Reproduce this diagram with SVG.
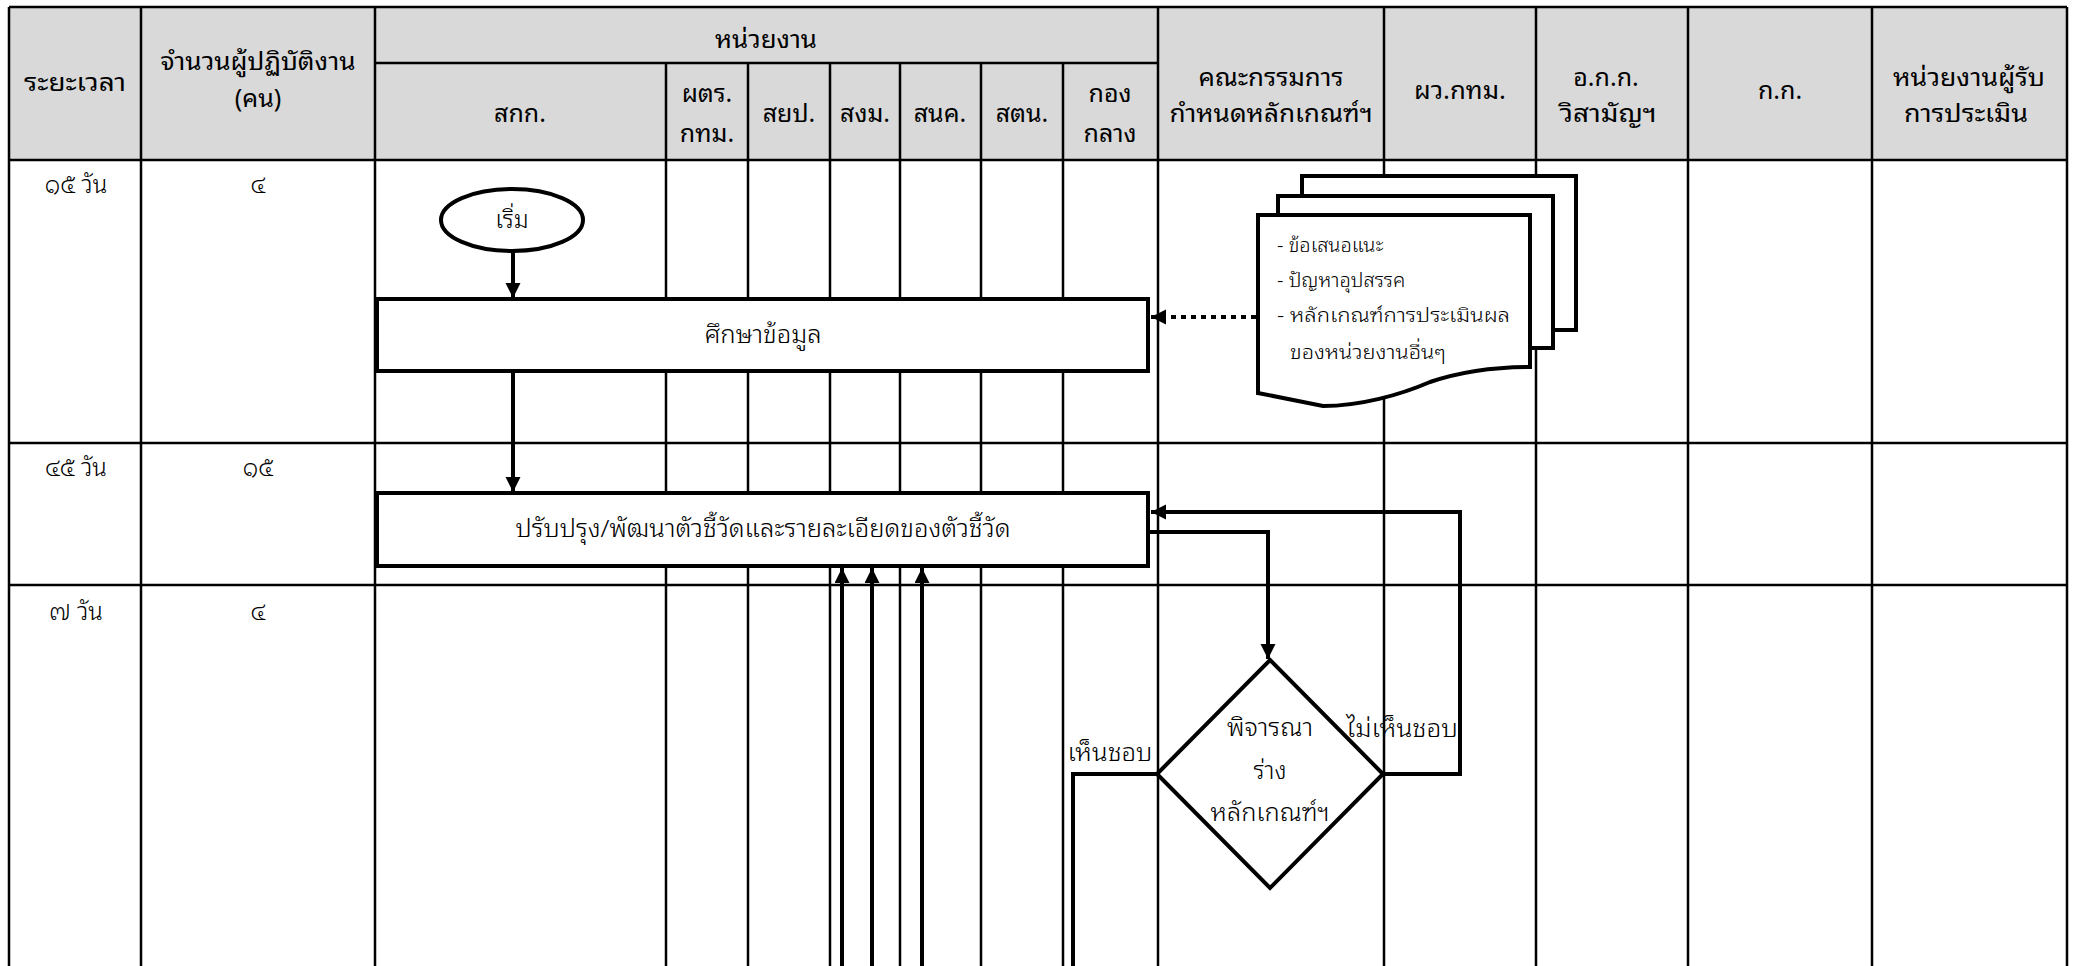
<svg xmlns="http://www.w3.org/2000/svg" width="2073" height="966" viewBox="0 0 2073 966">
  <style>
    text { font-family: "Noto Sans Thai Looped", "Noto Sans Thai", "Noto Sans Thai UI", Tahoma, "Noto Sans", "DejaVu Sans", sans-serif; fill: #000; }
    .hd { font-size: 25px; text-anchor: middle; font-weight: 400; }
    .cell { font-size: 24px; text-anchor: middle; font-weight: 300; }
    .lbl { font-size: 24px; text-anchor: middle; font-weight: 300; }
    .doc { font-size: 20px; font-weight: 300; }
    .grid line { stroke: #000; stroke-width: 2.5; }
    .shape { fill: #fff; stroke: #000; stroke-width: 4; }
    .conn { fill: none; stroke: #000; stroke-width: 4; }
    .dot { stroke-dasharray: 5 5; }
  </style>
  <defs>
    <marker id="arrow" markerUnits="userSpaceOnUse" markerWidth="16" markerHeight="16" refX="15" refY="7.5" orient="auto">
      <path d="M0,0 L15,7.5 L0,15 z" fill="#000"/>
    </marker>
  </defs>

  <rect x="0" y="0" width="2073" height="966" fill="#fff"/>

  <!-- header band -->
  <rect x="9" y="7" width="2058" height="153" fill="#d9d9d9"/>

  <!-- table grid -->
  <g class="grid">
    <line x1="9" y1="7" x2="2067" y2="7"/>
    <line x1="375" y1="63" x2="1158" y2="63"/>
    <line x1="9" y1="160" x2="2067" y2="160"/>
    <line x1="9" y1="443" x2="2067" y2="443"/>
    <line x1="9" y1="585" x2="2067" y2="585"/>
    <line x1="9" y1="7" x2="9" y2="966"/>
    <line x1="141" y1="7" x2="141" y2="966"/>
    <line x1="375" y1="7" x2="375" y2="966"/>
    <line x1="666" y1="63" x2="666" y2="966"/>
    <line x1="748" y1="63" x2="748" y2="966"/>
    <line x1="830" y1="63" x2="830" y2="966"/>
    <line x1="900" y1="63" x2="900" y2="966"/>
    <line x1="981" y1="63" x2="981" y2="966"/>
    <line x1="1063" y1="63" x2="1063" y2="966"/>
    <line x1="1158" y1="7" x2="1158" y2="966"/>
    <line x1="1384" y1="7" x2="1384" y2="966"/>
    <line x1="1536" y1="7" x2="1536" y2="966"/>
    <line x1="1688" y1="7" x2="1688" y2="966"/>
    <line x1="1872" y1="7" x2="1872" y2="966"/>
    <line x1="2067" y1="7" x2="2067" y2="966"/>
  </g>

  <!-- column headings -->
  <g id="headings">
    <text class="hd" x="75" y="91" textLength="102" lengthAdjust="spacingAndGlyphs">ระยะเวลา</text>
    <text class="hd" x="258" y="70" textLength="195" lengthAdjust="spacingAndGlyphs">จำนวนผู้ปฏิบัติงาน</text>
    <text class="hd" x="258" y="107">(คน)</text>
    <text class="hd" x="766" y="48" textLength="102" lengthAdjust="spacingAndGlyphs">หน่วยงาน</text>
    <text class="hd" x="520" y="122">สกก.</text>
    <text class="hd" x="707" y="102">ผตร.</text>
    <text class="hd" x="707" y="142">กทม.</text>
    <text class="hd" x="789" y="122">สยป.</text>
    <text class="hd" x="865" y="122">สงม.</text>
    <text class="hd" x="940" y="122">สนค.</text>
    <text class="hd" x="1022" y="122">สตน.</text>
    <text class="hd" x="1110" y="102">กอง</text>
    <text class="hd" x="1110" y="142">กลาง</text>
    <text class="hd" x="1271" y="86" textLength="145" lengthAdjust="spacingAndGlyphs">คณะกรรมการ</text>
    <text class="hd" x="1271" y="122" textLength="203" lengthAdjust="spacingAndGlyphs">กำหนดหลักเกณฑ์ฯ</text>
    <text class="hd" x="1460" y="99" textLength="92" lengthAdjust="spacingAndGlyphs">ผว.กทม.</text>
    <text class="hd" x="1606" y="86">อ.ก.ก.</text>
    <text class="hd" x="1608" y="122" textLength="97" lengthAdjust="spacingAndGlyphs">วิสามัญฯ</text>
    <text class="hd" x="1780" y="99">ก.ก.</text>
    <text class="hd" x="1969" y="86" textLength="152" lengthAdjust="spacingAndGlyphs">หน่วยงานผู้รับ</text>
    <text class="hd" x="1966" y="122" textLength="124" lengthAdjust="spacingAndGlyphs">การประเมิน</text>
  </g>

  <!-- duration and staff per step -->
  <g id="rows">
    <text class="cell" x="76" y="193">๑๕ วัน</text>
    <text class="cell" x="258" y="193">๔</text>
    <text class="cell" x="76" y="476">๔๕ วัน</text>
    <text class="cell" x="258" y="476">๑๕</text>
    <text class="cell" x="76" y="620">๗ วัน</text>
    <text class="cell" x="258" y="620">๔</text>
  </g>

  <!-- connectors -->
  <g id="connectors">
    <line class="conn" x1="513" y1="251" x2="513" y2="298" marker-end="url(#arrow)"/>
    <line class="conn" x1="513" y1="371" x2="513" y2="492" marker-end="url(#arrow)"/>
    <line class="conn dot" x1="1256" y1="317" x2="1151" y2="317" marker-end="url(#arrow)"/>
    <path class="conn" d="M1148,532 H1268 V659" marker-end="url(#arrow)"/>
    <path class="conn" d="M1383,774 H1460 V512 H1151" marker-end="url(#arrow)"/>
    <path class="conn" d="M1157,774 H1073 V966"/>
    <line class="conn" x1="842" y1="966" x2="842" y2="568" marker-end="url(#arrow)"/>
    <line class="conn" x1="872" y1="966" x2="872" y2="568" marker-end="url(#arrow)"/>
    <line class="conn" x1="922" y1="966" x2="922" y2="568" marker-end="url(#arrow)"/>
  </g>

  <g id="start">
    <ellipse class="shape" cx="512" cy="220" rx="71" ry="31"/>
    <text class="lbl" x="512" y="228">เริ่ม</text>
  </g>

  <g id="study">
    <rect class="shape" x="377" y="299" width="771" height="72"/>
    <text class="lbl" x="763" y="343" textLength="117" lengthAdjust="spacingAndGlyphs">ศึกษาข้อมูล</text>
  </g>

  <g id="improve">
    <rect class="shape" x="377" y="493" width="771" height="73"/>
    <text class="lbl" x="763" y="537" textLength="495" lengthAdjust="spacingAndGlyphs">ปรับปรุง/พัฒนาตัวชี้วัดและรายละเอียดของตัวชี้วัด</text>
  </g>

  <g id="documents">
    <rect class="shape" x="1302" y="176" width="274" height="154"/>
    <rect class="shape" x="1278" y="196" width="275" height="152"/>
    <path class="shape" d="M1258,215 H1530 V367 C1490,367 1460,372 1430,382 C1400,395 1360,406 1323,406 L1258,393 Z"/>
    <text class="doc" x="1277" y="252">- ข้อเสนอแนะ</text>
    <text class="doc" x="1277" y="287">- ปัญหาอุปสรรค</text>
    <text class="doc" x="1277" y="322" textLength="233" lengthAdjust="spacingAndGlyphs">- หลักเกณฑ์การประเมินผล</text>
    <text class="doc" x="1290" y="359" textLength="156" lengthAdjust="spacingAndGlyphs">ของหน่วยงานอื่นๆ</text>
  </g>

  <g id="decision">
    <polygon class="shape" points="1270,660 1383,774 1270,888 1157,774"/>
    <text class="lbl" x="1270" y="736" textLength="86" lengthAdjust="spacingAndGlyphs">พิจารณา</text>
    <text class="lbl" x="1270" y="779">ร่าง</text>
    <text class="lbl" x="1270" y="821" textLength="119" lengthAdjust="spacingAndGlyphs">หลักเกณฑ์ฯ</text>
  </g>

  <g id="branch-labels">
    <text class="lbl" x="1110" y="761" textLength="85" lengthAdjust="spacingAndGlyphs">เห็นชอบ</text>
    <text class="lbl" x="1402" y="737" textLength="112" lengthAdjust="spacingAndGlyphs">ไม่เห็นชอบ</text>
  </g>
</svg>
